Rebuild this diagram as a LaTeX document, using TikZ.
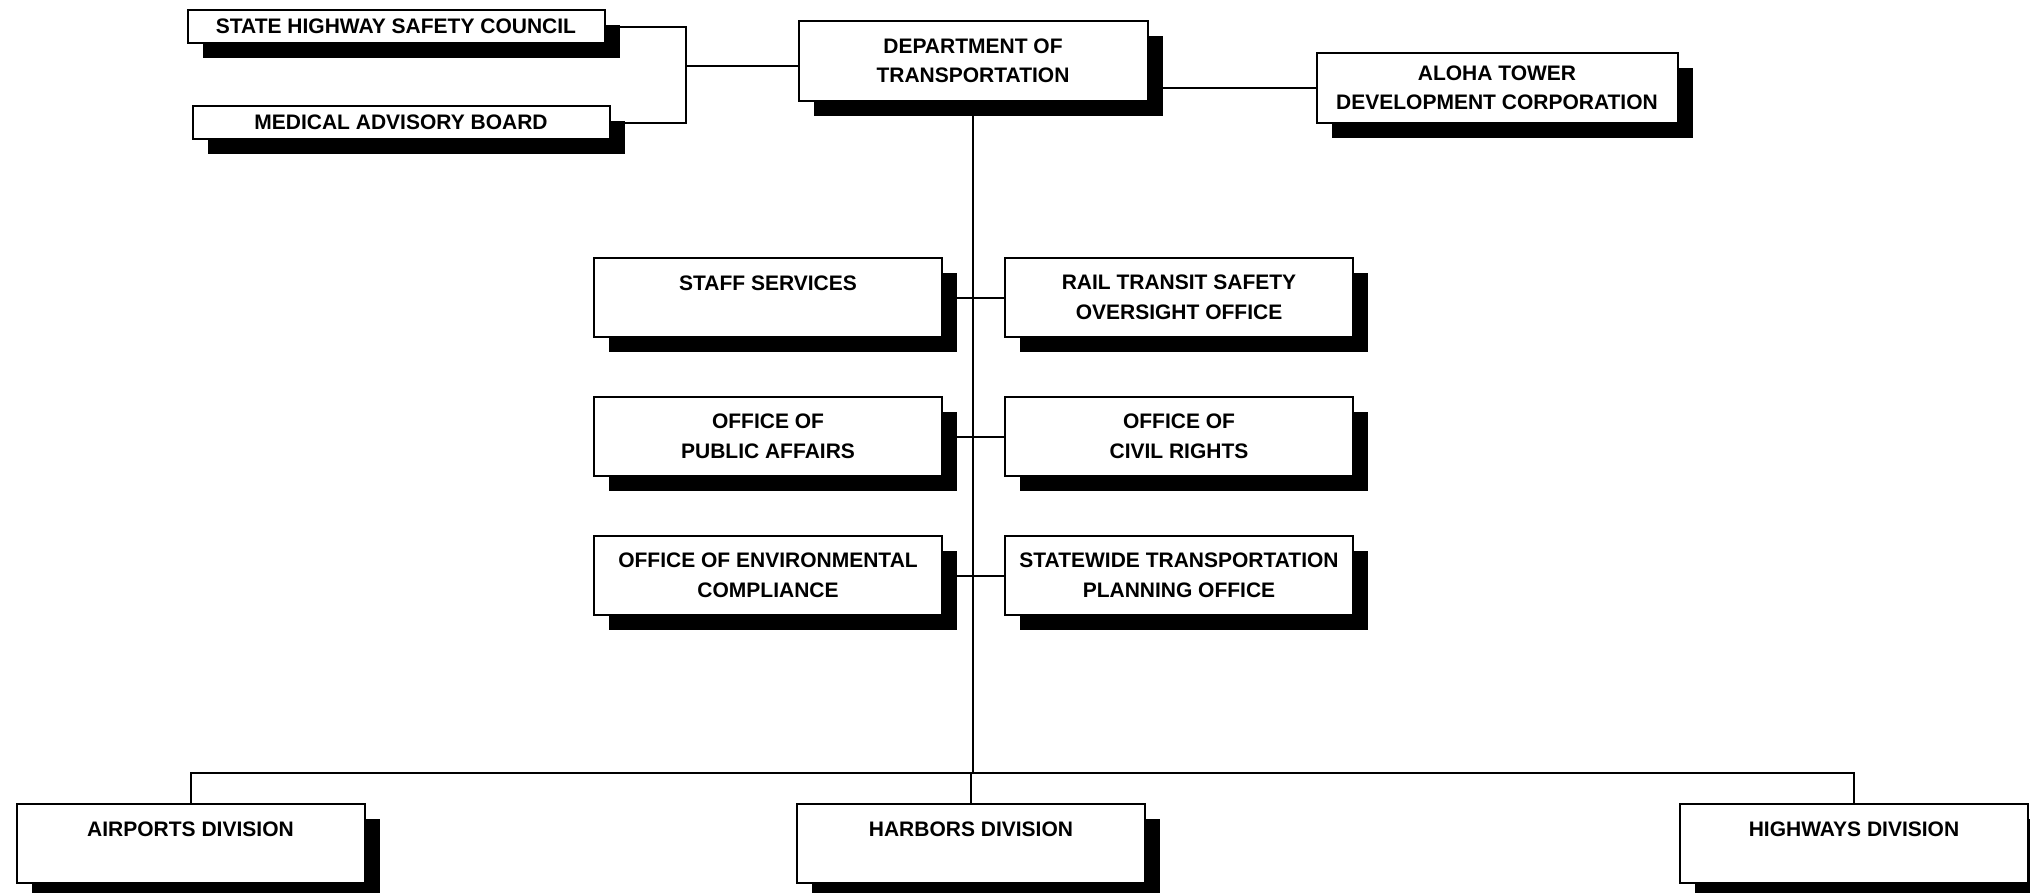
\documentclass[tikz,border=0pt]{standalone}
\usepackage{fontspec}
\setmainfont{Liberation Sans}
\usetikzlibrary{shadows,backgrounds}

\begin{document}
\begin{tikzpicture}[x=1pt, y=-1pt, line width=2pt,
        orgbox/.style={draw, fill=white, align=center, inner sep=0pt, line width=2pt,
            font=\bfseries\fontsize{21}{29.5}\selectfont,
            drop shadow={shadow xshift=15pt, shadow yshift=-15pt, fill=black, opacity=1}},
        wide/.style={orgbox, minimum width=348, minimum height=79},
        thin/.style={orgbox, minimum width=417, minimum height=33},
        link/.style={draw, line width=2pt}]
    \useasboundingbox (0,0) rectangle (2030,892);
    % top row
    \node[thin] (shsc) at (396,26.5) {STATE HIGHWAY SAFETY COUNCIL};
    \node[thin] (mab) at (401,122.5) {MEDICAL ADVISORY BOARD};
    \node[orgbox, minimum width=349, minimum height=80] (dot) at (973,61) {DEPARTMENT OF\\TRANSPORTATION};
    \node[orgbox, minimum width=361, minimum height=70] (atdc) at (1497,88) {ALOHA TOWER\\DEVELOPMENT CORPORATION};
    % staff offices
    \node[wide] (staff) at (768,297.5) {STAFF SERVICES\\\mbox{}};
    \node[wide] (rail) at (1179,297.5) {RAIL TRANSIT SAFETY\\OVERSIGHT OFFICE};
    \node[wide] (pub) at (768,436.5) {OFFICE OF\\PUBLIC AFFAIRS};
    \node[wide] (civ) at (1179,436.5) {OFFICE OF\\CIVIL RIGHTS};
    \node[wide] (env) at (768,575.5) {OFFICE OF ENVIRONMENTAL\\COMPLIANCE};
    \node[wide] (stp) at (1179,575.5) {STATEWIDE TRANSPORTATION\\PLANNING OFFICE};
    % divisions
    \node[wide] (air) at (190.5,843.5) {AIRPORTS DIVISION\\\mbox{}};
    \node[wide] (har) at (971,843.5) {HARBORS DIVISION\\\mbox{}};
    \node[wide] (hwy) at (1854,843.5) {HIGHWAYS DIVISION\\\mbox{}};
    % lines
    \begin{scope}[on background layer, every path/.style={link}]
        \coordinate (jl) at (686,66);
        \coordinate (bus) at (973,773);
        \draw (shsc.east) -| (jl) |- (mab.east);
        \draw (jl) -- (dot.west |- jl);
        \draw (atdc.west) -- (atdc.west -| dot.east);
        \draw (dot.south) -- (bus);
        \draw (staff.east) -- (rail.west);
        \draw (pub.east) -- (civ.west);
        \draw (env.east) -- (stp.west);
        \draw (air.north) |- (bus) -| (hwy.north);
        \draw (har.north) -- (har.north |- bus);
    \end{scope}
\end{tikzpicture}
\end{document}
